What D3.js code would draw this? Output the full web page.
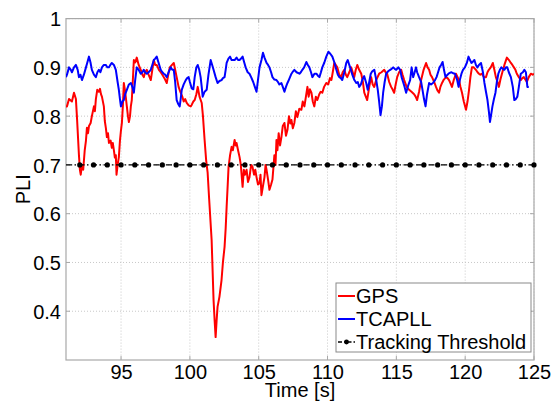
<!DOCTYPE html>
<html><head><meta charset="utf-8">
<script src="https://cdn.jsdelivr.net/npm/d3@7"></script>
<style>body{margin:0;background:#fff}svg{display:block}text{font-family:"Liberation Sans",Arial,sans-serif}</style>
</head><body><svg id="c" width="551" height="401"></svg>
<script>
const xTicks=[95,100,105,110,115,120,125];
const yTicks=[0.4,0.5,0.6,0.7,0.8,0.9,1];
const yTickLabels=["0.4","0.5","0.6","0.7","0.8","0.9","1"];
const seriesNames=["GPS","TCAPLL","Tracking Threshold"];
const threshold=0.7;
const thresholdMarkers=[92,93,94,95,96,97,98,99,100,101,102,103,104,105,106,107,108,109,110,111,112,113,114,115,116,117,118,119,120,121,122,123,124,125];

const gpsT=[91.00,91.07,91.22,91.43,91.58,91.72,91.80,91.94,92.01,92.07,92.16,92.25,92.36,92.45,92.52,92.60,92.67,92.79,92.88,93.03,93.10,93.17,93.27,93.39,93.47,93.54,93.61,93.75,93.82,93.90,93.97,94.05,94.12,94.24,94.33,94.40,94.48,94.55,94.62,94.67,94.75,94.84,94.92,94.99,95.06,95.13,95.20,95.30,95.42,95.50,95.57,95.65,95.71,95.78,95.85,95.93,96.03,96.14,96.28,96.43,96.55,96.65,96.75,96.87,97.00,97.16,97.27,97.38,97.48,97.59,97.75,97.88,98.00,98.10,98.20,98.32,98.43,98.54,98.70,98.83,98.93,99.04,99.18,99.33,99.45,99.55,99.66,99.77,99.91,100.06,100.13,100.25,100.35,100.47,100.57,100.70,100.86,100.95,101.07,101.18,101.29,101.40,101.58,101.72,101.80,101.87,101.94,102.01,102.15,102.30,102.40,102.52,102.60,102.67,102.75,102.81,102.92,103.03,103.12,103.25,103.32,103.39,103.50,103.61,103.70,103.83,103.92,104.00,104.12,104.22,104.33,104.45,104.55,104.66,104.75,104.84,104.95,105.06,105.13,105.20,105.30,105.42,105.50,105.57,105.68,105.78,105.90,106.00,106.14,106.22,106.29,106.36,106.45,106.55,106.65,106.75,106.87,106.98,107.09,107.20,107.30,107.38,107.48,107.59,107.70,107.81,107.95,108.10,108.20,108.32,108.43,108.54,108.63,108.72,108.83,108.93,109.04,109.15,109.26,109.40,109.50,109.62,109.75,109.91,110.05,110.18,110.28,110.38,110.49,110.60,110.71,110.85,111.00,111.10,111.22,111.33,111.43,111.58,111.72,111.83,111.94,112.05,112.16,112.30,112.45,112.57,112.67,112.78,112.88,113.03,113.17,113.28,113.39,113.55,113.75,113.92,114.12,114.22,114.33,114.48,114.62,114.72,114.84,114.95,115.06,115.20,115.35,115.45,115.57,115.75,115.93,116.10,116.29,116.40,116.51,116.65,116.80,116.98,117.16,117.27,117.38,117.48,117.59,117.75,117.88,118.00,118.10,118.20,118.32,118.45,118.61,118.72,118.83,118.95,119.04,119.18,119.33,119.45,119.55,119.66,119.77,119.90,120.06,120.17,120.28,120.38,120.49,120.62,120.78,120.90,121.00,121.10,121.22,121.36,121.51,121.62,121.72,121.86,122.01,122.12,122.23,122.35,122.45,122.56,122.67,122.85,123.03,123.18,123.32,123.43,123.54,123.65,123.75,123.90,124.04,124.15,124.26,124.37,124.48,124.62,124.77,124.90,125.00];
const gpsV=[0.82,0.82,0.835,0.83,0.848,0.835,0.796,0.72,0.69,0.68,0.70,0.69,0.73,0.75,0.776,0.765,0.78,0.786,0.80,0.82,0.81,0.835,0.854,0.85,0.856,0.845,0.84,0.82,0.79,0.775,0.757,0.765,0.745,0.75,0.735,0.745,0.73,0.715,0.72,0.68,0.70,0.716,0.75,0.77,0.786,0.82,0.868,0.85,0.82,0.80,0.788,0.80,0.82,0.833,0.87,0.915,0.91,0.92,0.905,0.895,0.885,0.88,0.89,0.895,0.885,0.874,0.895,0.915,0.905,0.905,0.895,0.89,0.885,0.88,0.875,0.868,0.885,0.90,0.905,0.909,0.895,0.88,0.86,0.848,0.84,0.83,0.835,0.827,0.822,0.82,0.823,0.83,0.833,0.845,0.86,0.84,0.827,0.80,0.751,0.71,0.684,0.63,0.546,0.423,0.38,0.347,0.38,0.409,0.43,0.464,0.50,0.532,0.57,0.614,0.66,0.696,0.72,0.737,0.73,0.751,0.74,0.745,0.73,0.716,0.70,0.655,0.69,0.68,0.69,0.665,0.675,0.70,0.696,0.68,0.69,0.675,0.66,0.663,0.68,0.638,0.655,0.675,0.70,0.69,0.67,0.649,0.66,0.67,0.72,0.70,0.751,0.73,0.765,0.74,0.757,0.78,0.786,0.76,0.772,0.80,0.785,0.792,0.775,0.786,0.81,0.798,0.815,0.813,0.83,0.82,0.84,0.86,0.84,0.855,0.848,0.83,0.82,0.84,0.833,0.845,0.85,0.848,0.86,0.868,0.865,0.878,0.874,0.89,0.909,0.905,0.90,0.885,0.88,0.89,0.895,0.885,0.88,0.89,0.90,0.89,0.88,0.895,0.905,0.895,0.887,0.87,0.848,0.84,0.833,0.86,0.88,0.865,0.86,0.875,0.887,0.89,0.895,0.89,0.887,0.87,0.86,0.855,0.848,0.865,0.88,0.89,0.895,0.885,0.874,0.86,0.854,0.85,0.845,0.84,0.833,0.85,0.874,0.895,0.909,0.90,0.895,0.885,0.88,0.87,0.86,0.852,0.848,0.86,0.868,0.875,0.88,0.878,0.874,0.866,0.86,0.875,0.887,0.88,0.874,0.86,0.848,0.83,0.813,0.83,0.854,0.88,0.90,0.90,0.895,0.89,0.887,0.885,0.887,0.88,0.88,0.89,0.895,0.90,0.909,0.895,0.88,0.87,0.86,0.875,0.887,0.905,0.92,0.915,0.909,0.905,0.90,0.895,0.887,0.88,0.874,0.878,0.88,0.875,0.87,0.88,0.887,0.885,0.887];

const tcaT=[91.00,91.07,91.22,91.35,91.43,91.58,91.72,91.85,91.94,92.05,92.16,92.30,92.45,92.55,92.67,92.78,92.88,93.03,93.17,93.28,93.39,93.50,93.61,93.75,93.90,94.00,94.12,94.22,94.33,94.48,94.62,94.75,94.84,94.92,94.99,95.10,95.20,95.30,95.42,95.57,95.71,95.82,95.93,96.03,96.14,96.28,96.43,96.55,96.65,96.75,96.87,97.00,97.16,97.27,97.38,97.48,97.59,97.72,97.88,98.00,98.10,98.20,98.32,98.45,98.61,98.72,98.83,98.93,99.04,99.15,99.26,99.33,99.41,99.55,99.70,99.80,99.91,100.00,100.13,100.25,100.35,100.47,100.57,100.68,100.78,100.86,100.93,101.07,101.22,101.35,101.51,101.62,101.72,101.87,102.01,102.15,102.30,102.40,102.52,102.60,102.67,102.80,102.92,103.03,103.14,103.25,103.39,103.50,103.61,103.72,103.83,103.95,104.05,104.20,104.33,104.45,104.60,104.72,104.84,104.95,105.06,105.20,105.31,105.42,105.57,105.68,105.78,105.90,106.00,106.14,106.29,106.40,106.50,106.65,106.75,106.87,106.98,107.09,107.20,107.38,107.50,107.59,107.75,107.96,108.06,108.17,108.30,108.46,108.57,108.68,108.80,108.90,109.05,109.19,109.30,109.41,109.52,109.62,109.77,109.91,110.06,110.20,110.35,110.50,110.64,110.75,110.86,110.97,111.07,111.22,111.36,111.47,111.58,111.70,111.80,111.95,112.09,112.20,112.30,112.42,112.52,112.66,112.81,112.92,113.03,113.14,113.25,113.40,113.54,113.65,113.75,113.85,113.95,114.04,114.15,114.26,114.40,114.55,114.66,114.77,114.88,114.99,115.14,115.28,115.38,115.49,115.60,115.71,115.85,116.00,116.11,116.22,116.33,116.43,116.51,116.65,116.80,116.90,117.01,117.12,117.23,117.38,117.52,117.66,117.81,117.92,118.03,118.14,118.25,118.36,118.46,118.57,118.68,118.79,118.90,119.01,119.12,119.26,119.41,119.52,119.62,119.73,119.84,119.98,120.13,120.24,120.35,120.46,120.57,120.67,120.78,120.89,121.00,121.15,121.29,121.40,121.51,121.62,121.72,121.80,121.87,121.98,122.09,122.20,122.30,122.41,122.52,122.63,122.74,122.85,122.96,123.06,123.17,123.32,123.46,123.57,123.68,123.79,123.90,124.04,124.19,124.30,124.41,124.52,124.62,124.73,124.84,125.00];
const tcaV=[0.88,0.885,0.90,0.895,0.89,0.90,0.905,0.895,0.88,0.885,0.874,0.885,0.90,0.91,0.922,0.91,0.895,0.885,0.88,0.89,0.895,0.89,0.90,0.905,0.905,0.90,0.90,0.905,0.909,0.905,0.895,0.87,0.854,0.835,0.82,0.83,0.833,0.845,0.854,0.865,0.868,0.86,0.848,0.875,0.90,0.895,0.887,0.89,0.895,0.89,0.887,0.89,0.895,0.905,0.915,0.918,0.922,0.91,0.895,0.89,0.887,0.885,0.88,0.89,0.90,0.895,0.895,0.87,0.833,0.825,0.82,0.835,0.854,0.865,0.874,0.878,0.88,0.87,0.857,0.855,0.88,0.90,0.905,0.895,0.88,0.86,0.84,0.85,0.854,0.885,0.915,0.905,0.895,0.88,0.868,0.872,0.874,0.878,0.88,0.895,0.909,0.918,0.922,0.915,0.915,0.915,0.92,0.915,0.915,0.918,0.922,0.91,0.90,0.89,0.887,0.88,0.87,0.86,0.85,0.875,0.90,0.915,0.93,0.92,0.909,0.905,0.90,0.89,0.88,0.875,0.874,0.87,0.865,0.868,0.86,0.85,0.86,0.868,0.875,0.887,0.892,0.895,0.89,0.887,0.89,0.895,0.90,0.911,0.905,0.90,0.89,0.88,0.887,0.887,0.883,0.88,0.89,0.90,0.91,0.922,0.932,0.928,0.922,0.91,0.895,0.885,0.88,0.878,0.874,0.89,0.909,0.915,0.905,0.895,0.885,0.874,0.868,0.87,0.86,0.865,0.874,0.882,0.868,0.854,0.87,0.887,0.892,0.895,0.874,0.854,0.83,0.802,0.82,0.848,0.87,0.887,0.892,0.895,0.897,0.90,0.897,0.895,0.90,0.895,0.88,0.87,0.86,0.848,0.862,0.874,0.9,0.88,0.89,0.90,0.89,0.88,0.87,0.854,0.835,0.82,0.845,0.868,0.865,0.868,0.874,0.88,0.89,0.90,0.905,0.911,0.895,0.88,0.884,0.887,0.889,0.89,0.888,0.887,0.875,0.86,0.875,0.887,0.895,0.90,0.91,0.922,0.915,0.909,0.912,0.915,0.905,0.90,0.905,0.909,0.89,0.868,0.85,0.833,0.81,0.788,0.80,0.82,0.835,0.848,0.87,0.887,0.895,0.90,0.897,0.895,0.90,0.90,0.89,0.88,0.86,0.833,0.835,0.84,0.86,0.887,0.89,0.895,0.89,0.86,0.86];

const svg=d3.select("#c");
const L=66,R=534,T=18.6,B=360;
const x=d3.scaleLinear().domain([91,125]).range([L,R]);
const y=d3.scaleLinear().domain([0.3,1]).range([B,T]);

// grid
const g=svg.append("g");
g.selectAll(".vg").data(xTicks).enter().append("line")
 .attr("x1",d=>x(d)).attr("x2",d=>x(d)).attr("y1",T).attr("y2",B)
 .attr("stroke","#c8c8c8").attr("stroke-width",1).attr("stroke-dasharray","1,2");
g.selectAll(".hg").data(yTicks).enter().append("line")
 .attr("x1",L).attr("x2",R).attr("y1",d=>y(d)).attr("y2",d=>y(d))
 .attr("stroke","#c8c8c8").attr("stroke-width",1).attr("stroke-dasharray","1,2");

// axes
const xa=svg.append("g").attr("transform",`translate(0,${B})`)
 .call(d3.axisBottom(x).tickValues(xTicks).tickSize(0).tickPadding(5).tickFormat(d3.format("d")));
const ya=svg.append("g").attr("transform",`translate(${L},0)`)
 .call(d3.axisLeft(y).tickValues(yTicks).tickSize(0).tickPadding(5).tickFormat((d,i)=>yTickLabels[i]));
[xa,ya].forEach(a=>{a.select(".domain").remove();a.selectAll("text").attr("font-size",20).attr("fill","#000").attr("font-family","Liberation Sans, Arial, sans-serif");});
xa.selectAll("text").attr("dy","0.72em");
ya.selectAll("text").attr("dy","0.36em");

// box
svg.append("rect").attr("x",L).attr("y",T).attr("width",R-L).attr("height",B-T)
 .attr("fill","none").attr("stroke","#a8a8a8").attr("stroke-width",1.2);
// inner ticks
svg.selectAll(".yt").data(yTicks).enter().append("path")
 .attr("d",d=>`M${L},${y(d)}h4M${R},${y(d)}h-4`).attr("stroke","#a8a8a8");
svg.selectAll(".xt").data(xTicks).enter().append("path")
 .attr("d",d=>`M${x(d)},${B}v-4M${x(d)},${T}v4`).attr("stroke","#a8a8a8");

const line=d3.line().x(d=>x(d[0])).y(d=>y(d[1]));
const clip=svg.append("clipPath").attr("id","cp").append("rect").attr("x",L).attr("y",T).attr("width",R-L).attr("height",B-T);
const plot=svg.append("g").attr("clip-path","url(#cp)");
plot.append("path").datum(d3.zip(gpsT,gpsV)).attr("d",line).attr("fill","none").attr("stroke","#ff0000").attr("stroke-width",2).attr("stroke-linejoin","round");
plot.append("path").datum(d3.zip(tcaT,tcaV)).attr("d",line).attr("fill","none").attr("stroke","#0000ff").attr("stroke-width",2).attr("stroke-linejoin","round");
plot.append("path").datum([[91,threshold],[125,threshold]]).attr("d",line).attr("fill","none").attr("stroke","#000").attr("stroke-width",1.3).attr("stroke-dasharray","6,2.5,1.5,2.5");
svg.selectAll(".tm").data(thresholdMarkers).enter().append("circle")
 .attr("cx",d=>x(d)).attr("cy",y(threshold)).attr("r",2.6).attr("fill","#000");

// labels
svg.append("text").attr("x",(L+R)/2).attr("y",397).attr("text-anchor","middle").attr("font-size",20).text("Time [s]");
svg.append("text").attr("transform",`translate(30,${(T+B)/2}) rotate(-90)`).attr("text-anchor","middle").attr("font-size",20).text("PLI");

// legend
const lg=svg.append("g");
lg.append("rect").attr("x",336).attr("y",283).attr("width",195).attr("height",69).attr("fill","#fff").attr("stroke","#8a8a8a").attr("stroke-width",1);
const colors=["#ff0000","#0000ff","#000"];
const ly=[296,319,342];
seriesNames.forEach((n,i)=>{
 if(i<2){lg.append("line").attr("x1",338).attr("x2",355).attr("y1",ly[i]).attr("y2",ly[i]).attr("stroke",colors[i]).attr("stroke-width",2);}
 else{lg.append("line").attr("x1",338).attr("x2",355).attr("y1",ly[i]).attr("y2",ly[i]).attr("stroke","#000").attr("stroke-width",1.3).attr("stroke-dasharray","4,2,1.5,2");
  lg.append("circle").attr("cx",346.5).attr("cy",ly[i]).attr("r",2.4).attr("fill","#000");}
 lg.append("text").attr("x",356).attr("y",ly[i]).attr("dy","0.36em").attr("font-size",20).text(n);
});
</script></body></html>
